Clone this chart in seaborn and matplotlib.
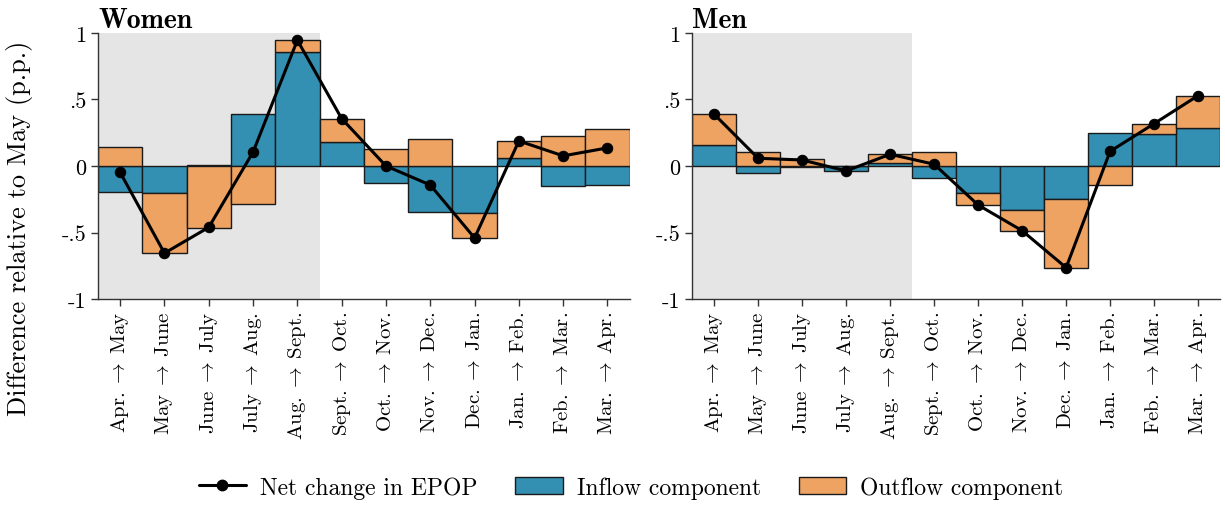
import numpy as np
import pandas as pd
import matplotlib
matplotlib.use("Agg")
import matplotlib.pyplot as plt
import seaborn as sns
from matplotlib.lines import Line2D
from matplotlib.patches import Patch

categories = ["Apr.", "May", "June", "July", "Aug.", "Sept.", "Oct.",
              "Nov.", "Dec.", "Jan.", "Feb.", "Mar.", "Apr."]
women_inflow = [-0.193, -0.20, 0.005, 0.393, 0.86, 0.18, -0.13, -0.343, -0.356, 0.063, -0.15, -0.14]
women_outflow = [0.145, -0.455, -0.466, -0.288, 0.085, 0.176, 0.13, 0.20, -0.185, 0.125, 0.226, 0.276]
men_inflow = [0.155, -0.05, -0.01, -0.04, 0.02, -0.09, -0.206, -0.329, -0.248, 0.25, 0.238, 0.283]
men_outflow = [0.234, 0.108, 0.055, 0.003, 0.068, 0.103, -0.087, -0.157, -0.516, -0.14, 0.08, 0.246]
yticks = [1, 0.5, 0, -0.5, -1]
yticklabels = ["1", ".5", "0", "-.5", "-1"]
shaded_n = 5

BLUE = "#3390B2"
ORANGE = "#EEA363"

sns.set_style("ticks")
plt.rcParams["font.family"] = ["cmr10", "DejaVu Serif"]
plt.rcParams["mathtext.fontset"] = "cm"
plt.rcParams["axes.unicode_minus"] = False
for k in ["text.color", "axes.labelcolor", "xtick.color", "ytick.color"]:
    plt.rcParams[k] = "black"

xlabels = [f"{a}$\\;\\rightarrow\\;${b}" for a, b in zip(categories[:-1], categories[1:])]

fig = plt.figure(figsize=(12.25, 5.06), dpi=100)
ax_w = fig.add_axes([0.080, 0.407, 0.434, 0.526])
ax_m = fig.add_axes([0.565, 0.407, 0.431, 0.526])


def draw(ax, inflow, outflow, title):
    inflow = np.asarray(inflow)
    outflow = np.asarray(outflow)
    net = inflow + outflow
    x = np.arange(len(inflow))
    same = np.sign(inflow) == np.sign(outflow)
    bottom = np.where(same, inflow, 0.0)
    ax.axvspan(-0.5, shaded_n - 0.5, color="#E5E5E5", zorder=0, lw=0)
    df = pd.DataFrame({"x": x, "inflow": inflow, "net": net})
    sns.barplot(data=df, x="x", y="inflow", color=BLUE, saturation=1, width=1.0,
                edgecolor="#1a1a1a", linewidth=1.0, ax=ax, zorder=2, native_scale=True)
    ax.bar(x, outflow, bottom=bottom, width=1.0, color=ORANGE,
           edgecolor="#1a1a1a", linewidth=1.0, zorder=2)
    sns.lineplot(data=df, x="x", y="net", color="black", lw=2.2, marker="o",
                 markersize=7.5, markeredgecolor="black", ax=ax, zorder=4)
    ax.set_xlim(-0.5, len(inflow) - 0.5)
    ax.set_ylim(-1, 1)
    ax.set_yticks(yticks)
    ax.set_yticklabels(yticklabels, fontsize=16)
    ax.set_xticks(x)
    ax.set_xticklabels(xlabels, rotation=90, fontsize=15)
    ax.tick_params(axis="both", direction="out", length=5, width=1, color="#333333")
    ax.set_xlabel("")
    ax.set_ylabel("")
    ax.set_title(title, loc="left", fontsize=20, fontweight="bold",
                 family=["cmb10", "DejaVu Serif"], pad=4)
    sns.despine(ax=ax)
    for s in ["left", "bottom"]:
        ax.spines[s].set_color("#333333")
        ax.spines[s].set_linewidth(1)


draw(ax_w, women_inflow, women_outflow, "Women")
draw(ax_m, men_inflow, men_outflow, "Men")

fig.text(20 / 1225, 1 - 228 / 506, "Difference relative to May (p.p.)",
         rotation=90, fontsize=19, ha="center", va="center")

handles = [Line2D([0], [0], color="black", lw=2.2, marker="o", markersize=7.5),
           Patch(facecolor=BLUE, edgecolor="#1a1a1a"),
           Patch(facecolor=ORANGE, edgecolor="#1a1a1a")]
fig.legend(handles, ["Net change in EPOP", "Inflow component", "Outflow component"],
           loc="center", bbox_to_anchor=(0.515, 0.035), ncol=3, frameon=False,
           fontsize=17, handlelength=2.0, columnspacing=1.6, handletextpad=0.6)

fig.savefig("out.png", dpi=100)
